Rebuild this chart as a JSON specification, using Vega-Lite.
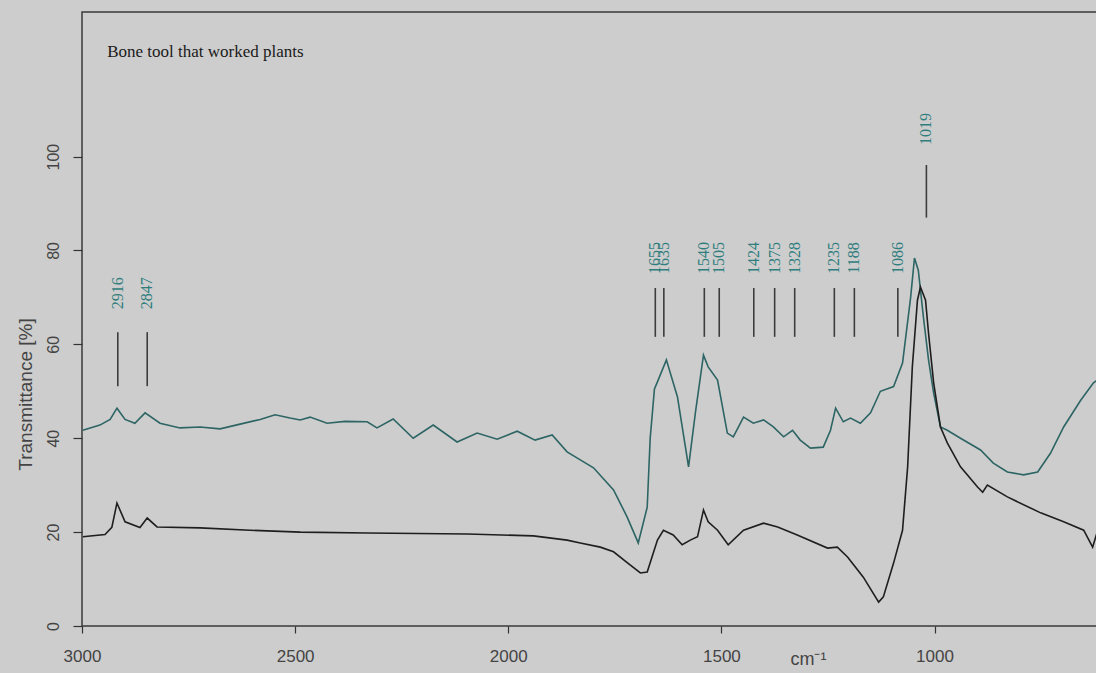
{
  "$schema": "https://vega.github.io/schema/vega-lite/v6.json",
  "width": 1023,
  "height": 614,
  "autosize": {"type": "none"},
  "padding": {"left": 82, "top": 12, "right": 0, "bottom": 47},
  "background": "#cdcdcd",
  "config": {
    "view": {"stroke": "#3a3a3a", "strokeWidth": 1.5},
    "axis": {"grid": false, "domain": false, "tickColor": "#333333", "tickWidth": 1.2, "labelFont": "Liberation Sans", "labelColor": "#444444", "titleFont": "Liberation Sans", "titleColor": "#444444", "titleFontWeight": "normal"}
  },
  "datasets": {
    "spectra": [
      {"spectrum": "A", "wn": 2998, "T": 41.7}, {"spectrum": "A", "wn": 2958, "T": 42.8}, {"spectrum": "A", "wn": 2934, "T": 44.0}, {"spectrum": "A", "wn": 2918, "T": 46.4},
      {"spectrum": "A", "wn": 2899, "T": 44.0}, {"spectrum": "A", "wn": 2876, "T": 43.2}, {"spectrum": "A", "wn": 2852, "T": 45.4}, {"spectrum": "A", "wn": 2817, "T": 43.2},
      {"spectrum": "A", "wn": 2770, "T": 42.2}, {"spectrum": "A", "wn": 2723, "T": 42.4}, {"spectrum": "A", "wn": 2676, "T": 42.0}, {"spectrum": "A", "wn": 2629, "T": 43.0},
      {"spectrum": "A", "wn": 2582, "T": 44.0}, {"spectrum": "A", "wn": 2547, "T": 45.0}, {"spectrum": "A", "wn": 2512, "T": 44.3}, {"spectrum": "A", "wn": 2488, "T": 43.9},
      {"spectrum": "A", "wn": 2465, "T": 44.5}, {"spectrum": "A", "wn": 2425, "T": 43.2}, {"spectrum": "A", "wn": 2383, "T": 43.6}, {"spectrum": "A", "wn": 2331, "T": 43.5},
      {"spectrum": "A", "wn": 2308, "T": 42.2}, {"spectrum": "A", "wn": 2270, "T": 44.1}, {"spectrum": "A", "wn": 2223, "T": 40.0}, {"spectrum": "A", "wn": 2176, "T": 42.8},
      {"spectrum": "A", "wn": 2120, "T": 39.2}, {"spectrum": "A", "wn": 2073, "T": 41.1}, {"spectrum": "A", "wn": 2026, "T": 39.8}, {"spectrum": "A", "wn": 1979, "T": 41.5},
      {"spectrum": "A", "wn": 1937, "T": 39.6}, {"spectrum": "A", "wn": 1897, "T": 40.7}, {"spectrum": "A", "wn": 1862, "T": 37.1}, {"spectrum": "A", "wn": 1831, "T": 35.4},
      {"spectrum": "A", "wn": 1800, "T": 33.7}, {"spectrum": "A", "wn": 1753, "T": 29.0}, {"spectrum": "A", "wn": 1721, "T": 23.2}, {"spectrum": "A", "wn": 1695, "T": 17.7},
      {"spectrum": "A", "wn": 1674, "T": 25.3}, {"spectrum": "A", "wn": 1667, "T": 40.0}, {"spectrum": "A", "wn": 1657, "T": 50.5}, {"spectrum": "A", "wn": 1650, "T": 52.0},
      {"spectrum": "A", "wn": 1629, "T": 56.7}, {"spectrum": "A", "wn": 1603, "T": 48.8}, {"spectrum": "A", "wn": 1577, "T": 33.9}, {"spectrum": "A", "wn": 1561, "T": 45.4},
      {"spectrum": "A", "wn": 1542, "T": 57.7}, {"spectrum": "A", "wn": 1531, "T": 55.2}, {"spectrum": "A", "wn": 1509, "T": 52.4}, {"spectrum": "A", "wn": 1486, "T": 41.1},
      {"spectrum": "A", "wn": 1472, "T": 40.3}, {"spectrum": "A", "wn": 1448, "T": 44.5}, {"spectrum": "A", "wn": 1425, "T": 43.2}, {"spectrum": "A", "wn": 1401, "T": 43.9},
      {"spectrum": "A", "wn": 1378, "T": 42.4}, {"spectrum": "A", "wn": 1354, "T": 40.3}, {"spectrum": "A", "wn": 1333, "T": 41.7}, {"spectrum": "A", "wn": 1315, "T": 39.6},
      {"spectrum": "A", "wn": 1291, "T": 37.9}, {"spectrum": "A", "wn": 1261, "T": 38.1}, {"spectrum": "A", "wn": 1244, "T": 41.7}, {"spectrum": "A", "wn": 1232, "T": 46.4},
      {"spectrum": "A", "wn": 1214, "T": 43.5}, {"spectrum": "A", "wn": 1197, "T": 44.3}, {"spectrum": "A", "wn": 1174, "T": 43.2}, {"spectrum": "A", "wn": 1150, "T": 45.4},
      {"spectrum": "A", "wn": 1127, "T": 50.0}, {"spectrum": "A", "wn": 1096, "T": 51.0}, {"spectrum": "A", "wn": 1075, "T": 56.0}, {"spectrum": "A", "wn": 1056, "T": 70.0},
      {"spectrum": "A", "wn": 1047, "T": 78.4}, {"spectrum": "A", "wn": 1038, "T": 75.8}, {"spectrum": "A", "wn": 1026, "T": 65.8}, {"spectrum": "A", "wn": 1014, "T": 56.7},
      {"spectrum": "A", "wn": 1002, "T": 49.6}, {"spectrum": "A", "wn": 986, "T": 42.4}, {"spectrum": "A", "wn": 970, "T": 41.7}, {"spectrum": "A", "wn": 939, "T": 40.0},
      {"spectrum": "A", "wn": 892, "T": 37.5}, {"spectrum": "A", "wn": 862, "T": 34.7}, {"spectrum": "A", "wn": 829, "T": 32.8}, {"spectrum": "A", "wn": 791, "T": 32.2},
      {"spectrum": "A", "wn": 758, "T": 32.8}, {"spectrum": "A", "wn": 728, "T": 36.8}, {"spectrum": "A", "wn": 697, "T": 42.4}, {"spectrum": "A", "wn": 657, "T": 48.1},
      {"spectrum": "A", "wn": 627, "T": 51.8}, {"spectrum": "A", "wn": 610, "T": 53.0},
      {"spectrum": "B", "wn": 2998, "T": 19.0}, {"spectrum": "B", "wn": 2946, "T": 19.5}, {"spectrum": "B", "wn": 2930, "T": 21.0}, {"spectrum": "B", "wn": 2918, "T": 26.2},
      {"spectrum": "B", "wn": 2899, "T": 22.2}, {"spectrum": "B", "wn": 2864, "T": 21.0}, {"spectrum": "B", "wn": 2847, "T": 23.0}, {"spectrum": "B", "wn": 2824, "T": 21.1},
      {"spectrum": "B", "wn": 2723, "T": 20.9}, {"spectrum": "B", "wn": 2606, "T": 20.4}, {"spectrum": "B", "wn": 2488, "T": 20.0}, {"spectrum": "B", "wn": 2331, "T": 19.8},
      {"spectrum": "B", "wn": 2096, "T": 19.6}, {"spectrum": "B", "wn": 1941, "T": 19.2}, {"spectrum": "B", "wn": 1862, "T": 18.3}, {"spectrum": "B", "wn": 1831, "T": 17.7},
      {"spectrum": "B", "wn": 1784, "T": 16.8}, {"spectrum": "B", "wn": 1753, "T": 15.8}, {"spectrum": "B", "wn": 1721, "T": 13.5}, {"spectrum": "B", "wn": 1690, "T": 11.3},
      {"spectrum": "B", "wn": 1674, "T": 11.5}, {"spectrum": "B", "wn": 1650, "T": 18.3}, {"spectrum": "B", "wn": 1636, "T": 20.4}, {"spectrum": "B", "wn": 1613, "T": 19.4},
      {"spectrum": "B", "wn": 1592, "T": 17.3}, {"spectrum": "B", "wn": 1573, "T": 18.3}, {"spectrum": "B", "wn": 1556, "T": 19.0}, {"spectrum": "B", "wn": 1542, "T": 24.7},
      {"spectrum": "B", "wn": 1531, "T": 22.2}, {"spectrum": "B", "wn": 1509, "T": 20.4}, {"spectrum": "B", "wn": 1484, "T": 17.3}, {"spectrum": "B", "wn": 1448, "T": 20.4},
      {"spectrum": "B", "wn": 1401, "T": 21.9}, {"spectrum": "B", "wn": 1368, "T": 21.1}, {"spectrum": "B", "wn": 1322, "T": 19.4}, {"spectrum": "B", "wn": 1251, "T": 16.6},
      {"spectrum": "B", "wn": 1228, "T": 16.8}, {"spectrum": "B", "wn": 1204, "T": 14.7}, {"spectrum": "B", "wn": 1167, "T": 10.4}, {"spectrum": "B", "wn": 1131, "T": 5.1},
      {"spectrum": "B", "wn": 1120, "T": 6.2}, {"spectrum": "B", "wn": 1096, "T": 13.4}, {"spectrum": "B", "wn": 1075, "T": 20.4}, {"spectrum": "B", "wn": 1063, "T": 33.9},
      {"spectrum": "B", "wn": 1052, "T": 55.2}, {"spectrum": "B", "wn": 1040, "T": 69.4}, {"spectrum": "B", "wn": 1033, "T": 72.2}, {"spectrum": "B", "wn": 1021, "T": 69.4},
      {"spectrum": "B", "wn": 1014, "T": 62.4}, {"spectrum": "B", "wn": 1002, "T": 51.8}, {"spectrum": "B", "wn": 986, "T": 42.4}, {"spectrum": "B", "wn": 970, "T": 39.0},
      {"spectrum": "B", "wn": 939, "T": 33.9}, {"spectrum": "B", "wn": 899, "T": 29.6}, {"spectrum": "B", "wn": 887, "T": 28.5}, {"spectrum": "B", "wn": 876, "T": 30.0},
      {"spectrum": "B", "wn": 829, "T": 27.5}, {"spectrum": "B", "wn": 751, "T": 24.1}, {"spectrum": "B", "wn": 697, "T": 22.2}, {"spectrum": "B", "wn": 650, "T": 20.4},
      {"spectrum": "B", "wn": 629, "T": 16.8}, {"spectrum": "B", "wn": 615, "T": 21.0}
    ],
    "peaks": [
      {"wn": 2916, "band": "CH"}, {"wn": 2847, "band": "CH"},
      {"wn": 1655, "band": "amide"}, {"wn": 1635, "band": "amide"}, {"wn": 1540, "band": "amide"}, {"wn": 1505, "band": "amide"},
      {"wn": 1424, "band": "amide"}, {"wn": 1375, "band": "amide"}, {"wn": 1328, "band": "amide"}, {"wn": 1235, "band": "amide"},
      {"wn": 1188, "band": "amide"}, {"wn": 1086, "band": "amide"},
      {"wn": 1019, "band": "phosphate"}
    ]
  },
  "layer": [
    {
      "data": {"name": "spectra"},
      "mark": {"type": "line", "strokeWidth": 1.6, "clip": true},
      "encoding": {
        "x": {
          "field": "wn", "type": "quantitative",
          "scale": {"domain": [600, 3000], "reverse": true, "nice": false, "zero": false},
          "axis": {
            "values": [3000, 2500, 2000, 1500, 1000], "format": "d",
            "tickSize": 7, "labelFontSize": 17, "labelPadding": 15, "labelFlush": false,
            "title": "cm⁻¹", "titleFontSize": 18, "titleX": 726, "titleY": 38,
            "titleAlign": "center", "titleBaseline": "alphabetic"
          }
        },
        "y": {
          "field": "T", "type": "quantitative",
          "scale": {"domain": [0, 130.8], "nice": false},
          "axis": {
            "values": [0, 20, 40, 60, 80, 100],
            "tickSize": 9, "labelAngle": 270, "labelAlign": "center", "labelBaseline": "bottom",
            "labelPadding": 12, "labelFontSize": 16,
            "title": "Transmittance [%]", "titleFontSize": 19, "titleAngle": 270,
            "titleX": -57, "titleY": 382, "titleAlign": "center", "titleBaseline": "middle"
          }
        },
        "color": {"field": "spectrum", "type": "nominal", "scale": {"domain": ["A", "B"], "range": ["#2d6464", "#1e1e1e"]}, "legend": null}
      }
    },
    {
      "data": {"name": "peaks"},
      "transform": [{"filter": "datum.band === 'CH'"}],
      "mark": {"type": "rule", "color": "#3c3c3c", "strokeWidth": 1.6},
      "encoding": {
        "x": {"field": "wn", "type": "quantitative"},
        "y": {"datum": 51.1, "type": "quantitative"},
        "y2": {"datum": 62.6}
      }
    },
    {
      "data": {"name": "peaks"},
      "transform": [{"filter": "datum.band === 'amide'"}],
      "mark": {"type": "rule", "color": "#3c3c3c", "strokeWidth": 1.6},
      "encoding": {
        "x": {"field": "wn", "type": "quantitative"},
        "y": {"datum": 61.6, "type": "quantitative"},
        "y2": {"datum": 72.0}
      }
    },
    {
      "data": {"name": "peaks"},
      "transform": [{"filter": "datum.band === 'phosphate'"}],
      "mark": {"type": "rule", "color": "#3c3c3c", "strokeWidth": 1.6},
      "encoding": {
        "x": {"field": "wn", "type": "quantitative"},
        "y": {"datum": 87.0, "type": "quantitative"},
        "y2": {"datum": 98.2}
      }
    },
    {
      "data": {"name": "peaks"},
      "transform": [{"filter": "datum.band === 'CH'"}],
      "mark": {"type": "text", "angle": 270, "align": "center", "baseline": "middle", "font": "Liberation Serif", "fontSize": 16, "color": "#2f7d7d"},
      "encoding": {
        "x": {"field": "wn", "type": "quantitative"},
        "y": {"datum": 70.9, "type": "quantitative"},
        "text": {"field": "wn", "type": "quantitative", "format": "d"}
      }
    },
    {
      "data": {"name": "peaks"},
      "transform": [{"filter": "datum.band === 'amide'"}],
      "mark": {"type": "text", "angle": 270, "align": "center", "baseline": "middle", "font": "Liberation Serif", "fontSize": 16, "color": "#2f7d7d"},
      "encoding": {
        "x": {"field": "wn", "type": "quantitative"},
        "y": {"datum": 78.4, "type": "quantitative"},
        "text": {"field": "wn", "type": "quantitative", "format": "d"}
      }
    },
    {
      "data": {"name": "peaks"},
      "transform": [{"filter": "datum.band === 'phosphate'"}],
      "mark": {"type": "text", "angle": 270, "align": "center", "baseline": "middle", "font": "Liberation Serif", "fontSize": 16, "color": "#2f7d7d"},
      "encoding": {
        "x": {"field": "wn", "type": "quantitative"},
        "y": {"datum": 105.9, "type": "quantitative"},
        "text": {"field": "wn", "type": "quantitative", "format": "d"}
      }
    },
    {
      "data": {"values": [{"caption": "Bone tool that worked plants"}]},
      "mark": {"type": "text", "align": "left", "baseline": "middle", "font": "Liberation Serif", "fontSize": 17, "color": "#1a1a1a"},
      "encoding": {
        "x": {"datum": 2941, "type": "quantitative"},
        "y": {"datum": 122.3, "type": "quantitative"},
        "text": {"field": "caption", "type": "nominal"}
      }
    }
  ]
}
